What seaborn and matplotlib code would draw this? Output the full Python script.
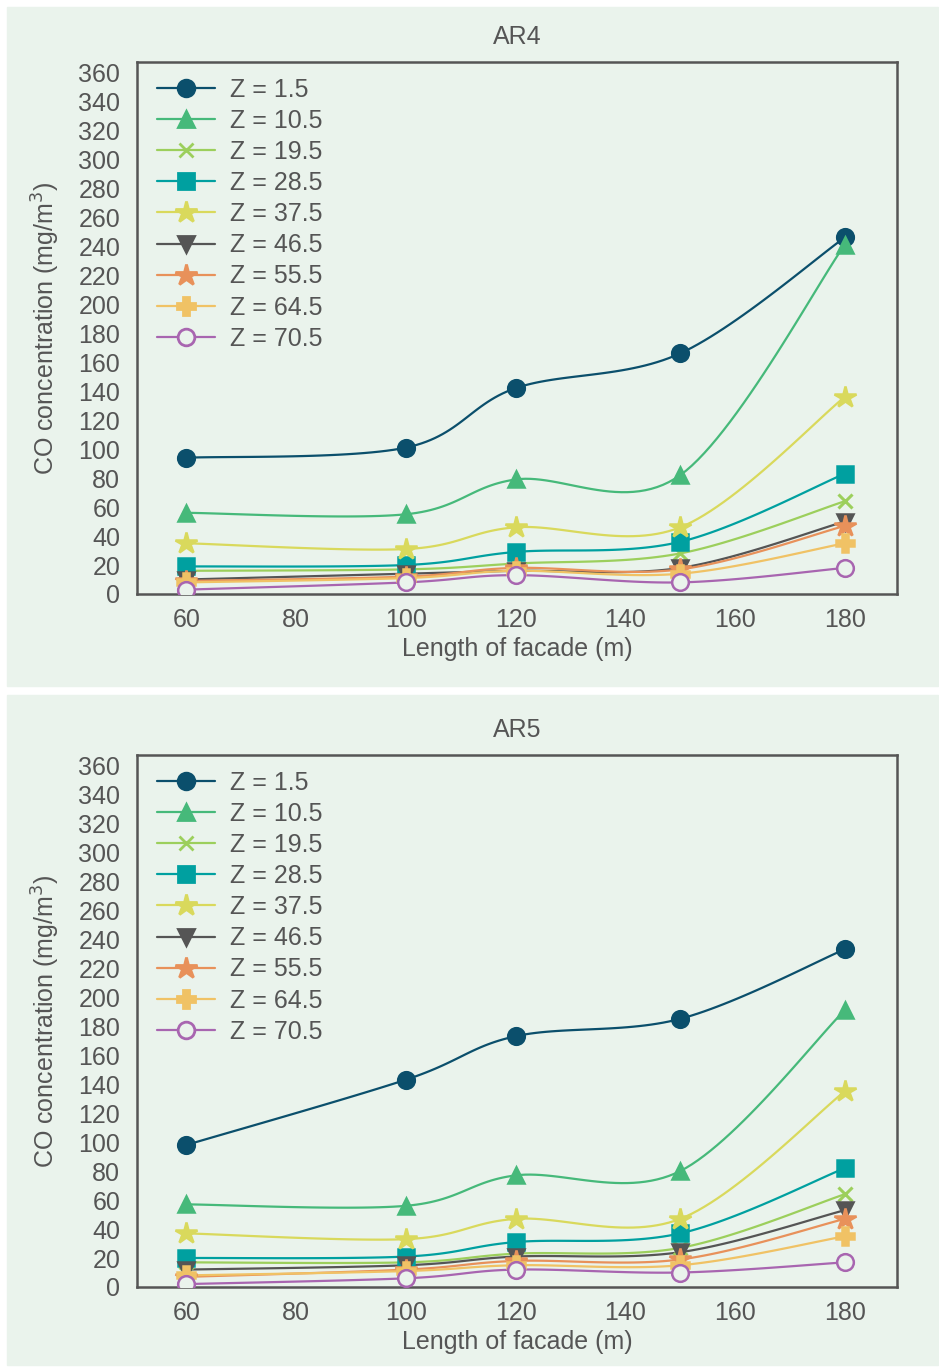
import numpy as np
import seaborn as sns
import matplotlib.pyplot as plt
from matplotlib.lines import Line2D
from matplotlib.patches import Rectangle

lengths = [60, 100, 120, 150, 180]
z_labels = ["Z = 1.5", "Z = 10.5", "Z = 19.5", "Z = 28.5", "Z = 37.5",
            "Z = 46.5", "Z = 55.5", "Z = 64.5", "Z = 70.5"]

ar4_z1_5 = [94, 101, 142, 166, 246]
ar4_z10_5 = [56, 55, 79, 82, 241]
ar4_z19_5 = [16, 17, 21, 28, 64]
ar4_z28_5 = [19, 20, 29, 36, 83]
ar4_z37_5 = [35, 31, 46, 46, 136]
ar4_z46_5 = [10, 14, 16, 18, 50]
ar4_z55_5 = [9, 12, 18, 17, 47]
ar4_z64_5 = [8, 11, 16, 14, 35]
ar4_z70_5 = [3, 8, 13, 8, 18]

ar5_z1_5 = [98, 143, 173, 185, 233]
ar5_z10_5 = [57, 56, 77, 80, 191]
ar5_z19_5 = [17, 17, 23, 27, 64]
ar5_z28_5 = [20, 21, 31, 37, 82]
ar5_z37_5 = [37, 33, 47, 47, 135]
ar5_z46_5 = [12, 15, 21, 24, 53]
ar5_z55_5 = [7, 12, 18, 19, 47]
ar5_z64_5 = [8, 11, 15, 15, 35]
ar5_z70_5 = [2, 6, 12, 10, 17]

ar4 = [ar4_z1_5, ar4_z10_5, ar4_z19_5, ar4_z28_5, ar4_z37_5,
       ar4_z46_5, ar4_z55_5, ar4_z64_5, ar4_z70_5]
ar5 = [ar5_z1_5, ar5_z10_5, ar5_z19_5, ar5_z28_5, ar5_z37_5,
       ar5_z46_5, ar5_z55_5, ar5_z64_5, ar5_z70_5]

colors = ["#0b4f6c", "#46b97a", "#9ccf5c", "#00a0a0", "#d9d95c",
          "#555555", "#e8915a", "#f0c265", "#a865b0"]
markers = ["o", "^", "x", "s", "*", "v", "*", "P", "o"]
msizes = [12, 12, 10, 11, 16, 12, 16, 13, 12]

BG = "#eaf3ec"
XLIM = (51, 189.5)
YLIM = (0, 367)


def smooth(x, y, n=30):
    # excel-like smoothed line (bezier through points), done in screen-ish units
    sx = 760 / (XLIM[1] - XLIM[0])
    sy = 532 / (YLIM[1] - YLIM[0])
    p = np.column_stack([np.asarray(x, float) * sx, np.asarray(y, float) * sy])
    pts = []
    for i in range(len(p) - 1):
        p0 = p[i - 1] if i > 0 else p[i]
        p1, p2 = p[i], p[i + 1]
        p3 = p[i + 2] if i + 2 < len(p) else p[i + 1]
        c1 = p1 + (p2 - p0) / 6
        c2 = p2 - (p3 - p1) / 6
        t = np.linspace(0, 1, n)[:, None]
        seg = ((1 - t) ** 3) * p1 + 3 * ((1 - t) ** 2) * t * c1 + 3 * (1 - t) * t ** 2 * c2 + t ** 3 * p2
        pts.append(seg if i == 0 else seg[1:])
    pts = np.vstack(pts)
    return pts[:, 0] / sx, pts[:, 1] / sy


sns.set_theme(style="white")
plt.rcParams["font.family"] = ["Liberation Sans", "DejaVu Sans"]
plt.rcParams["text.color"] = "#555555"
plt.rcParams["axes.labelcolor"] = "#555555"
plt.rcParams["xtick.color"] = "#555555"
plt.rcParams["ytick.color"] = "#555555"

W, H = 939, 1367
fig = plt.figure(figsize=(W / 100, H / 100), dpi=100)
fig.patch.set_facecolor("white")
fig.patches.append(Rectangle((7 / W, 1 - 686 / H), 931 / W, 679 / H,
                             transform=fig.transFigure, color=BG, zorder=-5))
fig.patches.append(Rectangle((7 / W, 1 - 1365 / H), 931 / W, 670 / H,
                             transform=fig.transFigure, color=BG, zorder=-5))


def draw(ax, data, title):
    ax.set_facecolor(BG)
    for vals, c, m, ms in zip(data, colors, markers, msizes):
        xs, ys = smooth(lengths, vals)
        sns.lineplot(x=xs, y=ys, color=c, lw=1.6, sort=False, estimator=None, ax=ax)
        face = BG if c == "#a865b0" else c
        mew = 2.2 if m == "x" else 1.8
        ax.plot(lengths, vals, linestyle="none", marker=m, ms=ms, color=c,
                mfc=face, mec=c, mew=mew, zorder=3)
    ax.set_xlim(*XLIM)
    ax.set_ylim(*YLIM)
    ax.set_xticks(range(60, 181, 20))
    ax.set_yticks(range(0, 361, 20))
    ax.tick_params(labelsize=18, length=0)
    ax.tick_params(axis="x", pad=10)
    ax.tick_params(axis="y", pad=12)
    ax.set_xlabel("Length of facade (m)", fontsize=18, labelpad=4)
    ax.set_ylabel("CO concentration (mg/m$^3$)", fontsize=18, labelpad=12)
    ax.set_title(title, fontsize=18, pad=13, color="#555555")
    for s in ax.spines.values():
        s.set_color("#555555")
        s.set_linewidth(1.8)
    handles = []
    for c, m, ms in zip(colors, markers, msizes):
        face = BG if c == "#a865b0" else c
        handles.append(Line2D([], [], color=c, lw=1.6, marker=m, ms=ms,
                              mfc=face, mec=c, mew=2.0))
    ax.legend(handles, z_labels, loc="upper left", bbox_to_anchor=(0, 1.008),
              frameon=False, fontsize=18, handlelength=2.3, labelspacing=0.285,
              borderaxespad=0.4, handletextpad=0.6)


ax1 = fig.add_axes([137 / W, 1 - 594 / H, 760 / W, 532 / H])
ax2 = fig.add_axes([137 / W, 1 - 1287 / H, 760 / W, 532 / H])
draw(ax1, ar4, "AR4")
draw(ax2, ar5, "AR5")

fig.savefig("out.png", dpi=100, facecolor="white")
